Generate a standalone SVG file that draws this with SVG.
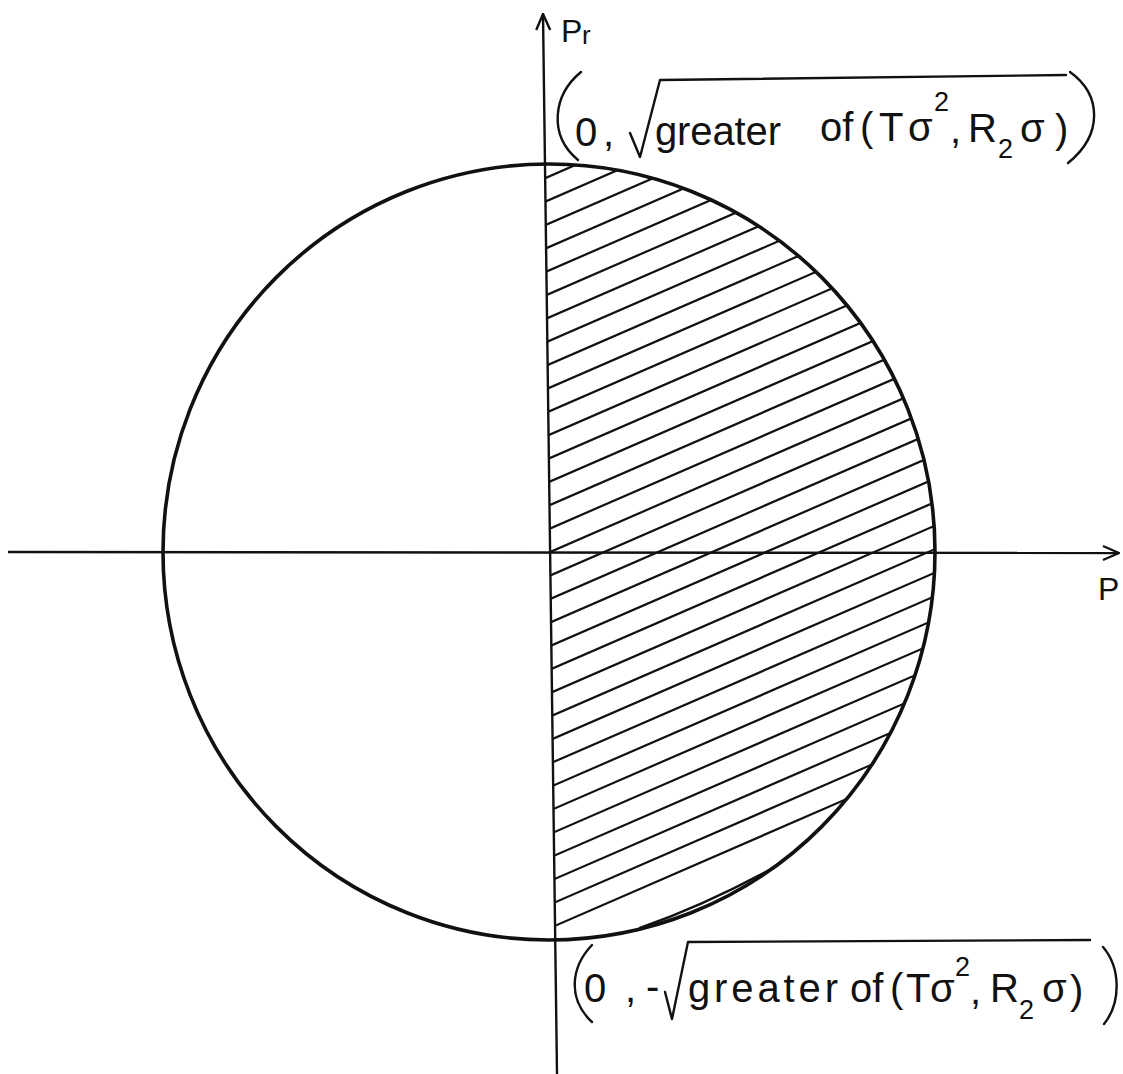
<svg xmlns="http://www.w3.org/2000/svg" width="1123" height="1074" viewBox="0 0 1123 1074">
<style>
.ax{stroke:#111;stroke-width:2.4;fill:none}
.circ{stroke:#111;stroke-width:3.6;fill:none}
.hl{stroke:#111;stroke-width:2.2;fill:none}
.pen{stroke:#111;stroke-width:2.4;fill:none;stroke-linecap:round;stroke-linejoin:round}
text{font-family:"Liberation Sans","DejaVu Sans",sans-serif;fill:#111}
.lb{font-size:40px}
.sm{font-size:27px}
</style>
<defs>
<marker id="arr" viewBox="0 0 18 18" refX="17" refY="9" markerWidth="18" markerHeight="18" markerUnits="userSpaceOnUse" orient="auto">
<path d="M1,2 L17,9 L1,16" fill="none" stroke="#111" stroke-width="2.4"/>
</marker>
<clipPath id="half">
<path d="M545,164 A386,388 0 0 1 935,552 A386,388 0 0 1 555,940 Z"/>
</clipPath>
</defs>
<rect width="1123" height="1074" fill="#fff"/>
<g id="hatch" clip-path="url(#half)">
<g transform="translate(550,552) rotate(-23.5)">
<path class="hl" d="M-520,-344.8H520M-520,-323.25H520M-520,-301.7H520M-520,-280.15H520M-520,-258.6H520M-520,-237.05H520M-520,-215.5H520M-520,-193.95H520M-520,-172.4H520M-520,-150.85H520M-520,-129.3H520M-520,-107.75H520M-520,-86.2H520M-520,-64.65H520M-520,-43.1H520M-520,-21.55H520M-520,0H520M-520,21.55H520M-520,43.1H520M-520,64.65H520M-520,86.2H520M-520,107.75H520M-520,129.3H520M-520,150.85H520M-520,172.4H520M-520,193.95H520M-520,215.5H520M-520,237.05H520M-520,258.6H520M-520,280.15H520M-520,301.7H520M-520,323.25H520M-520,344.8H520"/>
</g>
</g>
<g id="circle">
<ellipse class="circ" cx="549" cy="552" rx="386" ry="388"/>
<path class="pen" d="M640,928 Q705,905 773,868" stroke-width="2"/>
</g>
<g id="connectors">
<line class="ax" x1="8" y1="552" x2="1119" y2="553" marker-end="url(#arr)"/>
<line class="ax" x1="557" y1="1074" x2="543" y2="14" marker-end="url(#arr)"/>
</g>
<g id="axis-label-pr">
<text x="561" y="42" font-size="32">P</text>
<text x="582" y="44" font-size="26">r</text>
</g>
<g id="axis-label-p">
<text x="1098" y="600" font-size="32">P</text>
</g>
<g id="label-top">
<path class="pen" d="M581,72 C553,95 548,135 578,160"/>
<path class="pen" d="M1070,72 C1102,95 1103,135 1068,163"/>
<path class="pen" d="M630,133 L640,157 L660,80 L1066,75"/>
<text class="lb" x="575" y="146">0</text>
<text class="lb" x="603" y="146">,</text>
<text class="lb" x="655" y="145" textLength="126" lengthAdjust="spacing">greater</text>
<text class="lb" x="820" y="141">of</text>
<text class="lb" x="860" y="141">(</text>
<text class="lb" x="879" y="141">T</text>
<text class="lb" x="908" y="141">σ</text>
<text class="sm" x="934" y="111">2</text>
<text class="lb" x="950" y="143">,</text>
<text class="lb" x="968" y="142">R</text>
<text class="sm" x="998" y="158">2</text>
<text class="lb" x="1020" y="142">σ</text>
<text class="lb" x="1055" y="143">)</text>
</g>
<g id="label-bottom">
<path class="pen" d="M592,945 C570,968 568,1000 592,1022"/>
<path class="pen" d="M1103,947 C1121,968 1121,1003 1104,1024"/>
<path class="pen" d="M665,992 L672,1019 L688,942 L1090,940"/>
<text class="lb" x="584" y="1002">0</text>
<text class="lb" x="625" y="1002">,</text>
<text class="lb" x="646" y="1000">-</text>
<text class="lb" x="688" y="1002" textLength="150" lengthAdjust="spacing">greater</text>
<text class="lb" x="850" y="1002">of</text>
<text class="lb" x="890" y="1002">(</text>
<text class="lb" x="906" y="1002">T</text>
<text class="lb" x="930" y="1002">σ</text>
<text class="sm" x="955" y="976">2</text>
<text class="lb" x="970" y="1004">,</text>
<text class="lb" x="990" y="1002">R</text>
<text class="sm" x="1019" y="1019">2</text>
<text class="lb" x="1042" y="1002">σ</text>
<text class="lb" x="1070" y="1004">)</text>
</g>
</svg>
